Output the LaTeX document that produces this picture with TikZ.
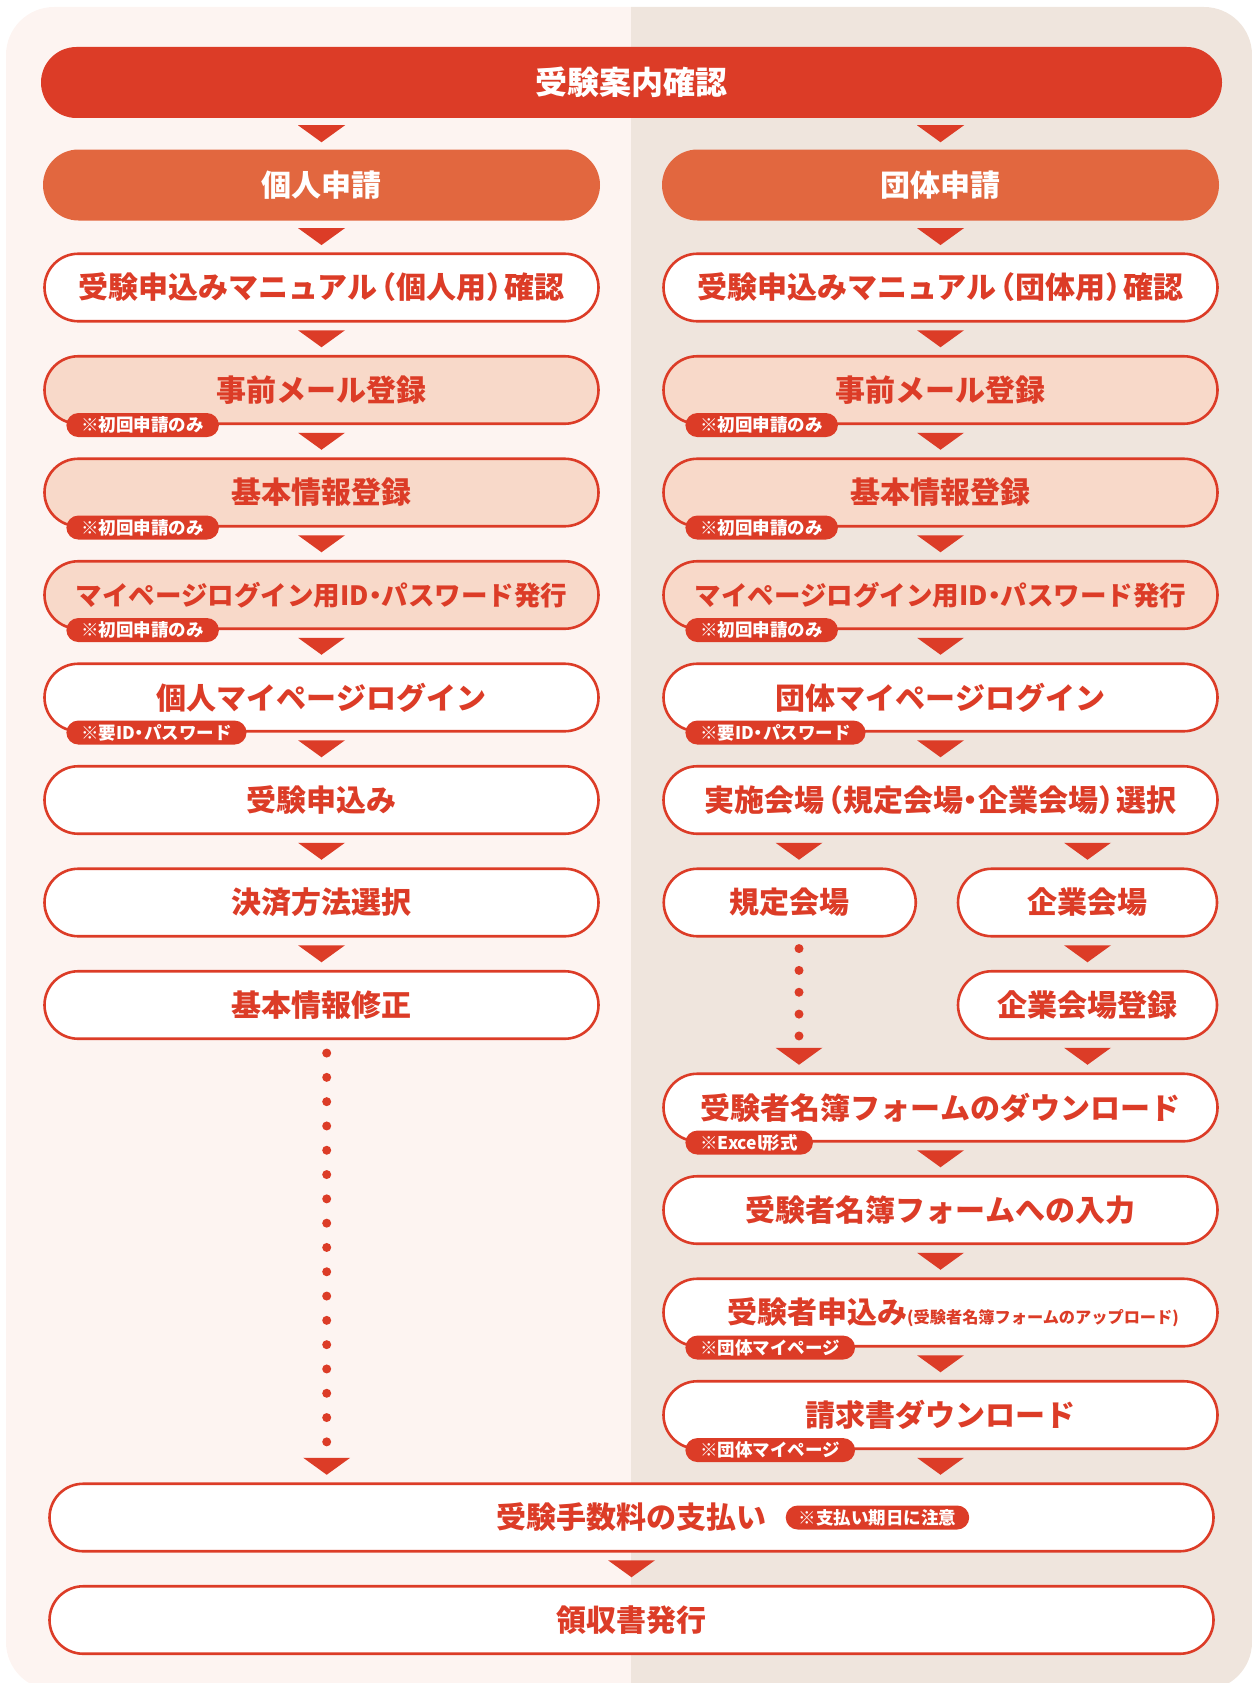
\documentclass[tikz,border=0pt]{standalone}
\usepackage{fontspec}
\newfontfamily\jp{Noto Sans CJK JP}
\usetikzlibrary{calc}
\definecolor{cred}{HTML}{DC3C27}
\definecolor{corange}{HTML}{E2673F}
\definecolor{cpink}{HTML}{F8D9C9}
\definecolor{bgL}{HTML}{FDF4F1}
\definecolor{bgR}{HTML}{EFE5DD}
\newcommand\dtri[1]{\fill[cred] #1 +(-23.5,-8.5) -- +(23.5,-8.5) -- +(0,8.5) -- cycle;}
\newcommand\lpar{\kern-.38em（}
\newcommand\rpar{）\kern-.38em}
\newcommand\ndot{\kern-.25em・\kern-.25em}
\begin{document}
\begin{tikzpicture}[x=1pt,y=-1pt,
  base/.style={draw=cred, line width=2.6pt, rounded corners=33.75pt, minimum height=67.5pt,
    inner sep=0pt, text=cred, font=\jp\bfseries\fontsize{30}{36}\selectfont},
  wbox/.style={base, fill=white},
  pbox/.style={base, fill=cpink},
  colw/.style={minimum width=554pt},
  widew/.style={minimum width=1164pt},
  head/.style={fill=corange, text=white, rounded corners=35.5pt, minimum height=71pt,
    minimum width=557pt, inner sep=0pt, font=\jp\bfseries\fontsize{30}{36}\selectfont},
  tag/.style={fill=cred, text=white, rounded corners=12pt, minimum height=24pt,
    inner xsep=15pt, inner ysep=0pt, anchor=west, font=\jp\bfseries\fontsize{17.5}{20}\selectfont},
  dotline/.style={draw=cred, line width=9pt, line cap=round}
]
\useasboundingbox (0,0) rectangle (1252,1683);
% background
\begin{scope}
  \clip[rounded corners=48pt] (6,7) rectangle (1252,1690);
  \fill[bgL] (0,0) rectangle (631,1700);
  \fill[bgR] (631,0) rectangle (1260,1700);
\end{scope}
\coordinate (kx) at (799,0);
\coordinate (lx) at (326.7,0);
% headers
\node[head, fill=cred, minimum width=1181pt, font=\jp\bfseries\fontsize{32}{38}\selectfont] (title) at (631.5,82.5) {受験案内確認};
\node[head] (kojin) at (321.5,185) {個人申請};
\node[head] (dantai) at (940.5,185) {団体申請};
% left column
\node[wbox,colw] (manL) at (321.5,287.5) {受験申込みマニュアル\lpar 個人用\rpar 確認};
\node[pbox,colw] (jizenL) at (321.5,390) {事前メール登録};
\node[pbox,colw] (kihonL) at (321.5,492.5) {基本情報登録};
\node[pbox,colw,font=\jp\bfseries\fontsize{26.5}{32}\selectfont] (idL) at (321.5,595) {マイページログイン用ID\ndot パスワード発行};
\node[wbox,colw] (loginL) at (321.5,697.5) {個人マイページログイン};
\node[wbox,colw] (moshiL) at (321.5,800) {受験申込み};
\node[wbox,colw] (kessai) at (321.5,902.5) {決済方法選択};
\node[wbox,colw] (shusei) at (321.5,1005) {基本情報修正};
% right column
\node[wbox,colw] (manR) at (940.5,287.5) {受験申込みマニュアル\lpar 団体用\rpar 確認};
\node[pbox,colw] (jizenR) at (940.5,390) {事前メール登録};
\node[pbox,colw] (kihonR) at (940.5,492.5) {基本情報登録};
\node[pbox,colw,font=\jp\bfseries\fontsize{26.5}{32}\selectfont] (idR) at (940.5,595) {マイページログイン用ID\ndot パスワード発行};
\node[wbox,colw] (loginR) at (940.5,697.5) {団体マイページログイン};
\node[wbox,colw] (jisshi) at (940.5,800) {実施会場\lpar 規定会場\ndot 企業会場\rpar 選択};
\node[wbox,minimum width=252pt] (kitei) at (789.75,902.5) {規定会場};
\node[wbox,minimum width=259pt] (kigyo) at (1087.5,902.5) {企業会場};
\node[wbox,minimum width=259pt] (kigyoreg) at (1087.5,1005) {企業会場登録};
\node[wbox,colw] (meibo) at (940.5,1107.5) {受験者名簿フォームのダウンロード};
\node[wbox,colw] (nyuryoku) at (940.5,1210) {受験者名簿フォームへの入力};
\node[wbox,colw] (juken) at (940.5,1312.5) {\hspace*{25pt}受験者申込み{\fontsize{16.2}{20}\selectfont (受験者名簿フォームのアップロード)}};
\node[wbox,colw] (seikyu) at (940.5,1415) {請求書ダウンロード};
% bottom
\node[wbox,widew] (shiharai) at (631.5,1517.5) {受験手数料の支払い};
\node[wbox,widew] (ryoshu) at (631.5,1620) {領収書発行};
% tags
\node[tag] (t1) at ($(jizenL.south west)+(23,0)$) {※初回申請のみ};
\node[tag] (t2) at ($(kihonL.south west)+(23,0)$) {※初回申請のみ};
\node[tag] (t3) at ($(idL.south west)+(23,0)$) {※初回申請のみ};
\node[tag] (t4) at ($(loginL.south west)+(23,0)$) {※要ID\ndot パスワード};
\node[tag] (t5) at ($(jizenR.south west)+(23,0)$) {※初回申請のみ};
\node[tag] (t6) at ($(kihonR.south west)+(23,0)$) {※初回申請のみ};
\node[tag] (t7) at ($(idR.south west)+(23,0)$) {※初回申請のみ};
\node[tag] (t8) at ($(loginR.south west)+(23,0)$) {※要ID\ndot パスワード};
\node[tag] (t9) at ($(meibo.south west)+(23,0)$) {※Excel形式};
\node[tag] (t10) at ($(juken.south west)+(23,0)$) {※団体マイページ};
\node[tag] (t11) at ($(seikyu.south west)+(23,0)$) {※団体マイページ};
\node[tag,inner xsep=13pt] (t12) at ($(shiharai.center)+(154,0)$) {※支払い期日に注意};
% arrows
\dtri{($(title.south -| kojin)!.5!(kojin.north)$)}
\dtri{($(title.south -| dantai)!.5!(dantai.north)$)}
\dtri{($(kojin.south)!.5!(manL.north)$)}
\dtri{($(manL.south)!.5!(jizenL.north)$)}
\dtri{($(jizenL.south)!.5!(kihonL.north)$)}
\dtri{($(kihonL.south)!.5!(idL.north)$)}
\dtri{($(idL.south)!.5!(loginL.north)$)}
\dtri{($(loginL.south)!.5!(moshiL.north)$)}
\dtri{($(moshiL.south)!.5!(kessai.north)$)}
\dtri{($(kessai.south)!.5!(shusei.north)$)}
\dtri{($(dantai.south)!.5!(manR.north)$)}
\dtri{($(manR.south)!.5!(jizenR.north)$)}
\dtri{($(jizenR.south)!.5!(kihonR.north)$)}
\dtri{($(kihonR.south)!.5!(idR.north)$)}
\dtri{($(idR.south)!.5!(loginR.north)$)}
\dtri{($(loginR.south)!.5!(jisshi.north)$)}
\dtri{($(kx |- jisshi.south)!.5!(kx |- kitei.north)$)}
\dtri{($(kigyo.north |- jisshi.south)!.5!(kigyo.north)$)}
\dtri{($(kigyo.south)!.5!(kigyoreg.north)$)}
\dtri{($(kigyoreg.south)!.5!(kigyoreg.south |- meibo.north)$)}
\dtri{($(kx |- kigyoreg.south)!.5!(kx |- meibo.north)$)}
\dtri{($(meibo.south)!.5!(nyuryoku.north)$)}
\dtri{($(nyuryoku.south)!.5!(juken.north)$)}
\dtri{($(juken.south)!.5!(seikyu.north)$)}
\dtri{($(seikyu.south)!.5!(seikyu.south |- shiharai.north)$)}
\dtri{($(lx |- seikyu.south)!.5!(lx |- shiharai.north)$)}
\dtri{($(shiharai.south)!.5!(ryoshu.north)$)}
% dotted connectors
\draw[dotline, dash pattern=on 0pt off 21.85pt] ($(kx |- kitei.south)+(0,11)$) -- ($(kx |- meibo.north)+(0,-36)$);
\draw[dotline, dash pattern=on 0pt off 24.3pt] ($(lx |- shusei.south)+(0,13)$) -- ($(lx |- shiharai.north)+(0,-39.5)$);
\end{tikzpicture}
\end{document}
